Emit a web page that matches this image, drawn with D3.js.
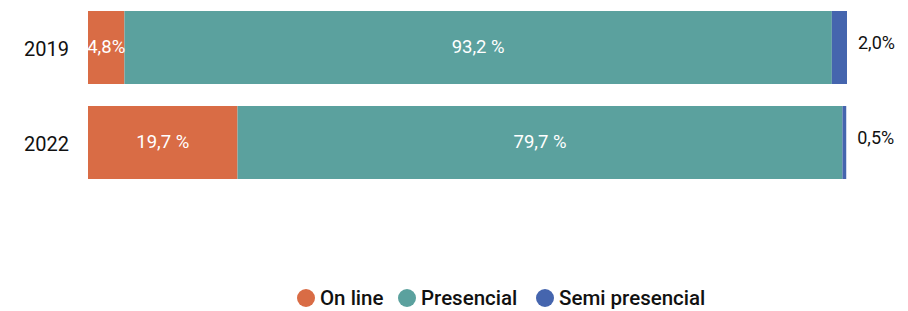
<!DOCTYPE html>
<html>
<head>
<meta charset="utf-8">
<script src="https://cdn.jsdelivr.net/npm/d3@7"></script>
<style>
  body { margin: 0; background: #fff; }
  text { font-family: Roboto, "Noto Sans", sans-serif; }
</style>
</head>
<body>
<div id="chart"></div>
<script>
// data
var years = ["2019", "2022"];
var seriesNames = ["On line", "Presencial", "Semi presencial"];
var onLine = [4.8, 19.7];
var presencial = [93.2, 79.7];
var semiPresencial = [2.0, 0.5];
var onLineLabels = ["4,8%", "19,7 %"];
var presencialLabels = ["93,2 %", "79,7 %"];
var semiLabels = ["2,0%", "0,5%"];
var colors = ["#D96C45", "#5BA19E", "#4565AE"];

var width = 908, height = 311;
var margin = { top: 11, right: 61, bottom: 32, left: 88 };

var svg = d3.select("#chart").append("svg")
    .attr("width", width)
    .attr("height", height);

var x = d3.scaleLinear().domain([0, 100]).range([margin.left, width - margin.right]);
var y = d3.scaleBand().domain(years).range([margin.top, 179]).paddingInner(22 / 95).paddingOuter(0);

var rows = years.map(function(yr, i) {
    return { year: yr, "On line": onLine[i], "Presencial": presencial[i], "Semi presencial": semiPresencial[i] };
});
var stack = d3.stack().keys(seriesNames)(rows);
var labels = [onLineLabels, presencialLabels, semiLabels];

var groups = svg.selectAll(".serie")
    .data(stack)
    .enter().append("g")
    .attr("class", "serie")
    .attr("fill", function(d, i) { return colors[i]; });

groups.selectAll("rect")
    .data(function(d) { return d; })
    .enter().append("rect")
    .attr("x", function(d) { return x(d[0]); })
    .attr("y", function(d) { return y(d.data.year); })
    .attr("width", function(d) { return x(d[1]) - x(d[0]); })
    .attr("height", y.bandwidth());

// labels inside the first two segments, outside for the last one
stack.forEach(function(s, si) {
    if (si < 2) {
        svg.selectAll(".lab" + si)
            .data(s)
            .enter().append("text")
            .attr("x", function(d) { return (x(d[0]) + x(d[1])) / 2; })
            .attr("y", function(d) { return y(d.data.year) + y.bandwidth() / 2 - 1; })
            .attr("dy", "0.35em")
            .attr("text-anchor", "middle")
            .attr("fill", "#fff")
            .style("font-size", "18.5px")
            .text(function(d, i) { return labels[si][i]; });
    } else {
        svg.selectAll(".lab" + si)
            .data(s)
            .enter().append("text")
            .attr("x", function(d) { return x(d[1]) + 11; })
            .attr("y", function(d) { return y(d.data.year) + y.bandwidth() / 2 - 5; })
            .attr("dy", "0.35em")
            .attr("fill", "#111")
            .style("font-size", "18px")
            .text(function(d, i) { return labels[si][i]; });
    }
});

// category axis
var yAxis = svg.append("g")
    .attr("transform", "translate(" + (margin.left - 19) + ",0)")
    .call(d3.axisLeft(y).tickSize(0).tickPadding(0));
yAxis.select(".domain").remove();
yAxis.selectAll("text")
    .attr("dy", "0.4em")
    .style("font-size", "20px")
    .style("font-family", "Roboto, sans-serif")
    .attr("fill", "#111");

// legend
var legendX = [306, 407, 545];
var legend = svg.selectAll(".legend")
    .data(seriesNames)
    .enter().append("g")
    .attr("class", "legend")
    .attr("transform", function(d, i) { return "translate(" + legendX[i] + ",298)"; });
legend.append("circle")
    .attr("r", 9)
    .attr("fill", function(d, i) { return colors[i]; });
legend.append("text")
    .attr("x", 14)
    .attr("dy", "0.35em")
    .style("font-size", "20.5px")
    .style("font-weight", "500")
    .attr("fill", "#111")
    .text(function(d) { return d; });
</script>
</body>
</html>
